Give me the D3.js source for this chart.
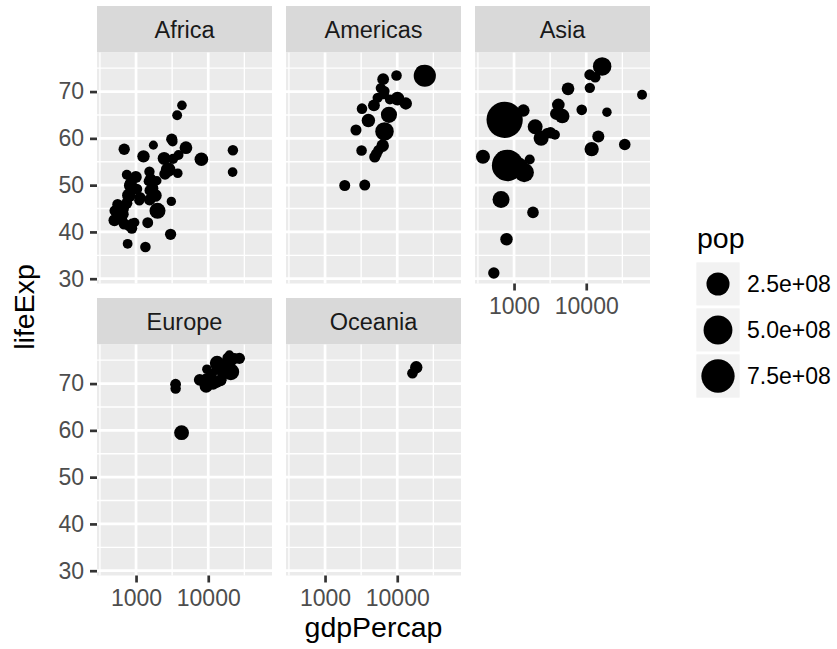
<!DOCTYPE html>
<html><head><meta charset="utf-8">
<script src="https://cdn.jsdelivr.net/npm/d3@7"></script>
<style>body{margin:0;background:#fff} svg{display:block} text{font-family:"Liberation Sans",Arial,Helvetica,sans-serif}</style>
</head><body><svg id="chart" width="837" height="649"></svg>
<script>
// gapminder, 1977: [country, gdpPercap, lifeExp, pop]
const africa = [
["Algeria",4910.417,58.014,17152804],["Angola",3008.647,39.483,6162675],["Benin",1029.161,49.19,3168267],
["Botswana",3214.858,59.319,781472],["Burkina Faso",743.387,46.137,5889574],["Burundi",556.1033,45.91,3834415],
["Cameroon",1694.337,49.355,7959865],["Central African Republic",1109.375,46.775,2167533],["Chad",1133.985,47.383,4388260],
["Comoros",1937.578,50.939,304739],["Congo, Dem. Rep.",795.7573,47.804,26480870],["Congo, Rep.",3259.179,55.625,1536769],
["Cote d'Ivoire",2517.737,52.374,7459574],["Djibouti",3081.761,46.519,228694],["Egypt",2785.494,53.319,38783863],
["Equatorial Guinea",958.5668,42.024,192675],["Eritrea",505.7538,44.535,2512642],["Ethiopia",556.8084,44.51,34617799],
["Gabon",21745.57,52.79,706367],["Gambia",884.7553,41.842,608274],["Ghana",993.224,51.756,10538093],
["Guinea",874.6859,40.762,4227026],["Guinea-Bissau",764.726,37.465,745228],["Kenya",1267.614,56.155,14500404],
["Lesotho",745.3695,52.208,1251524],["Liberia",640.3224,42.614,1703617],["Libya",21951.21,57.442,2721783],
["Madagascar",1544.228,46.881,8007166],["Malawi",663.2237,43.767,5637246],["Mali",686.3953,41.714,6491649],
["Mauritania",1497.493,50.852,1456688],["Mauritius",3710.983,64.93,913025],["Morocco",2447.409,55.73,18396941],
["Mozambique",502.3197,42.495,11127868],["Namibia",3876.486,56.437,977026],["Niger",808.8971,41.291,5682086],
["Nigeria",1981.951,44.514,62209173],["Reunion",4319.805,67.064,492095],["Rwanda",670.0806,45.0,4657072],
["Sao Tome and Principe",1737.562,58.55,86796],["Senegal",1561.769,48.879,5260855],["Sierra Leone",1348.285,36.788,3140897],
["Somalia",1450.993,41.974,4353666],["South Africa",8028.651,55.527,27129932],["Sudan",1852.407,47.8,17104986],
["Swaziland",3781.411,52.537,551425],["Tanzania",831.8221,49.919,17129565],["Togo",1532.776,52.887,2308582],
["Tunisia",3120.877,59.837,6005061],["Uganda",843.7331,50.35,11457758],["Zambia",1588.688,51.386,5216550],
["Zimbabwe",685.5877,57.674,6642107]
];
const americas = [
["Argentina",10079.03,68.481,26983828],["Bolivia",3548.098,50.023,5079716],["Brazil",6660.119,61.489,114313951],
["Canada",22090.88,74.21,23796400],["Chile",4756.764,67.052,10599793],["Colombia",3982.845,63.837,25094412],
["Costa Rica",5926.877,70.75,2108457],["Cuba",6380.495,72.649,9537988],["Dominican Republic",2681.989,61.788,5302800],
["Ecuador",6679.623,61.31,7278866],["El Salvador",5138.922,56.696,4282586],["Guatemala",4879.993,56.029,5703430],
["Haiti",1874.299,49.923,4908554],["Honduras",3203.208,57.402,3055235],["Jamaica",6650.196,70.11,2156814],
["Mexico",7674.929,65.032,63759976],["Nicaragua",5486.371,57.47,2554598],["Panama",5351.912,68.681,1839782],
["Paraguay",3248.373,66.353,2984494],["Peru",6281.291,58.447,15990099],["Puerto Rico",9770.525,73.44,3080828],
["Trinidad and Tobago",7899.554,68.3,1039009],["United States",24072.63,73.38,220239000],["Uruguay",6504.34,69.481,2873520],
["Venezuela",13143.95,67.456,13503563]
];
const asia = [
["Afghanistan",786.1134,38.438,14880372],["Bahrain",19340.1,65.593,297410],["Bangladesh",659.8772,46.923,80428306],
["Cambodia",524.9722,31.22,6978607],["China",741.2375,63.96737,943455000],["Hong Kong, China",11186.14,73.6,4583700],
["India",813.3373,54.208,634000000],["Indonesia",1382.702,52.702,136725000],["Iran",11888.6,57.702,35480679],
["Iraq",14688.24,60.413,11882916],["Israel",13306.62,73.06,3495918],["Japan",16610.38,75.38,113872473],
["Jordan",2852.352,61.134,1937652],["Korea, Dem. Rep.",4106.301,67.159,16325320],["Korea, Rep.",4657.221,64.766,36436000],
["Kuwait",59265.48,69.343,1140357],["Lebanon",8659.697,66.099,3115787],["Malaysia",3827.922,65.256,12845381],
["Mongolia",1647.512,55.491,1528000],["Myanmar",371.0,56.059,31528087],["Nepal",694.1124,46.748,13933198],
["Oman",11848.34,57.367,1004533],["Pakistan",1175.921,54.043,78152686],["Philippines",2373.204,60.06,46850962],
["Saudi Arabia",34167.76,58.69,8128505],["Singapore",11210.09,70.795,2325300],["Sri Lanka",1348.775,65.949,14116836],
["Syria",3195.485,61.195,7932503],["Taiwan",5596.52,70.59,16785196],["Thailand",1961.225,62.494,44148285],
["Vietnam",713.5371,55.764,50533506],["West Bank and Gaza",3682.831,60.765,1261091],["Yemen, Rep.",1829.765,44.175,8403990]
];
const europe = [
["Albania",3533.004,68.93,2509048],["Austria",19749.42,72.17,7568430],["Belgium",19117.97,72.8,9821800],
["Bosnia and Herzegovina",3528.481,69.86,4086000],["Bulgaria",7612.24,70.81,8797022],["Croatia",11305.39,70.64,4318673],
["Czech Republic",14800.16,70.71,10161915],["Denmark",20422.9,74.69,5088419],["Finland",15605.42,72.52,4738902],
["France",18292.64,73.83,53165019],["Germany",20512.92,72.5,78160773],["Greece",14195.52,73.68,9308479],
["Hungary",11674.84,69.95,10637171],["Iceland",19654.96,76.11,221823],["Ireland",11150.98,72.03,3271900],
["Italy",14255.98,73.48,56059245],["Montenegro",9595.93,73.066,560073],["Netherlands",21209.06,75.24,13852989],
["Norway",23311.35,75.37,4043205],["Poland",9508.141,70.67,34621254],["Portugal",10172.49,70.41,9662600],
["Romania",9356.397,69.46,21658597],["Serbia",12980.67,70.3,8686367],["Slovak Republic",10922.66,70.45,4827803],
["Slovenia",15277.03,70.97,1746919],["Spain",13236.92,74.39,36439000],["Sweden",18855.73,75.44,8251648],
["Switzerland",26982.29,75.39,6316424],["Turkey",4269.122,59.507,42404033],["United Kingdom",17428.75,72.76,56179000]
];
const oceania = [
["Australia",18334.2,73.49,14074100],["New Zealand",16233.72,72.22,3164900]
];

const continents = ["Africa","Americas","Asia","Europe","Oceania"];
const continentData = [africa, americas, asia, europe, oceania];
const xBreaks = [1000, 10000];
const yBreaks = [30, 40, 50, 60, 70];
const popBreaks = [2.5e8, 5e8, 7.5e8];
const popLabels = ["2.5e+08", "5.0e+08", "7.5e+08"];

const svg = d3.select("#chart");
const K = 2.55; // px per pt
const SFS = 23.5, FS = 23, TFS = 28.5;
const PW = 175, PH = 231, GAP_X = 14, STRIP = 46.5, ROW = 292;
const X0 = 97, Y0 = 52.5;

const all = continentData.flat();
const lx = d3.extent(all, d => Math.log10(d[1]));
const ex = (lx[1] - lx[0]) * 0.05;
const xDomain = [Math.pow(10, lx[0] - ex), Math.pow(10, lx[1] + ex)];
const ly = d3.extent(all, d => d[2]);
const ey = (ly[1] - ly[0]) * 0.05;
const yDomain = [ly[0] - ey, ly[1] + ey];
const popRescale = d3.scaleLinear().domain(d3.extent(all, d => d[3])).range([0, 1]);
function radius(p) {
  const size = 1 + 5 * Math.sqrt(Math.max(0, popRescale(p)));
  return K * (0.375 * (size * 2.845276 + 0.945) + 0.354);
}

// minor breaks (midpoints in transformed space)
const lmaj = [2, 3, 4, 5];
const xMinor = [];
for (let i = 0; i < lmaj.length - 1; i++) xMinor.push(Math.pow(10, (lmaj[i] + lmaj[i + 1]) / 2));
const yMinor = [25, 35, 45, 55, 65, 75];

function styleAxis(g) {
  g.select(".domain").remove();
  g.attr("font-family", null).attr("font-size", null);
  g.selectAll(".tick line").attr("stroke", "#333333").attr("stroke-width", 2.7);
  g.selectAll(".tick text").attr("fill", "#4D4D4D").style("font-size", FS + "px");
}

continents.forEach((name, i) => {
  const col = i % 3, row = Math.floor(i / 3);
  const px = X0 + col * (PW + GAP_X);
  const py = Y0 + row * ROW;
  const x = d3.scaleLog().domain(xDomain).range([px, px + PW]);
  const y = d3.scaleLinear().domain(yDomain).range([py + PH, py]);
  const g = svg.append("g");
  // strip
  g.append("rect").attr("x", px).attr("y", py - STRIP).attr("width", PW).attr("height", STRIP).attr("fill", "#D9D9D9");
  g.append("text").attr("x", px + PW / 2).attr("y", py - STRIP / 2).attr("dy", "0.38em")
    .attr("text-anchor", "middle").attr("fill", "#1A1A1A").style("font-size", SFS + "px").text(name);
  // panel
  g.append("rect").attr("x", px).attr("y", py).attr("width", PW).attr("height", PH).attr("fill", "#EBEBEB");
  const xm = xMinor.filter(v => v >= xDomain[0] && v <= xDomain[1]);
  const ym = yMinor.filter(v => v >= yDomain[0] && v <= yDomain[1]);
  g.selectAll(".xminor").data(xm).join("line").attr("x1", d => x(d)).attr("x2", d => x(d))
    .attr("y1", py).attr("y2", py + PH).attr("stroke", "#fff").attr("stroke-width", 1.35);
  g.selectAll(".yminor").data(ym).join("line").attr("y1", d => y(d)).attr("y2", d => y(d))
    .attr("x1", px).attr("x2", px + PW).attr("stroke", "#fff").attr("stroke-width", 1.35);
  g.selectAll(".xmajor").data(xBreaks).join("line").attr("x1", d => x(d)).attr("x2", d => x(d))
    .attr("y1", py).attr("y2", py + PH).attr("stroke", "#fff").attr("stroke-width", 2.7);
  g.selectAll(".ymajor").data(yBreaks).join("line").attr("y1", d => y(d)).attr("y2", d => y(d))
    .attr("x1", px).attr("x2", px + PW).attr("stroke", "#fff").attr("stroke-width", 2.7);
  // points
  g.selectAll("circle").data(continentData[i]).join("circle")
    .attr("cx", d => x(d[1])).attr("cy", d => y(d[2])).attr("r", d => radius(d[3])).attr("fill", "#000");
  // axes
  if (col === 0) {
    svg.append("g").attr("transform", `translate(${px},0)`)
      .call(d3.axisLeft(y).tickValues(yBreaks).tickFormat(d3.format("d")).tickSize(7).tickPadding(6))
      .call(styleAxis);
  }
  if (row === 1 || i === 2) {
    svg.append("g").attr("transform", `translate(0,${py + PH})`)
      .call(d3.axisBottom(x).tickValues(xBreaks).tickFormat(d3.format("d")).tickSize(7).tickPadding(7))
      .call(styleAxis);
  }
});

// axis titles
svg.append("text").attr("x", X0 + (3 * PW + 2 * GAP_X) / 2).attr("y", 637).attr("text-anchor", "middle")
  .attr("fill", "#000").style("font-size", TFS + "px").text("gdpPercap");
svg.append("text").attr("transform", "translate(34,307) rotate(-90)").attr("text-anchor", "middle")
  .attr("fill", "#000").style("font-size", TFS + "px").text("lifeExp");

// legend
const lg = svg.append("g");
lg.append("text").attr("x", 697).attr("y", 248).attr("fill", "#000").style("font-size", TFS + "px").text("pop");
const KEY = 46, KX = 695, KY = 261;
popBreaks.forEach((b, j) => {
  lg.append("rect").attr("x", KX).attr("y", KY + j * KEY).attr("width", KEY).attr("height", KEY)
    .attr("fill", "#F2F2F2").attr("stroke", "#fff").attr("stroke-width", 2.7);
  lg.append("circle").attr("cx", KX + KEY / 2).attr("cy", KY + j * KEY + KEY / 2).attr("r", radius(b)).attr("fill", "#000");
  lg.append("text").attr("x", 747).attr("y", KY + j * KEY + KEY / 2).attr("dy", "0.35em")
    .attr("fill", "#000").style("font-size", FS + "px").text(popLabels[j]);
});
</script></body></html>
